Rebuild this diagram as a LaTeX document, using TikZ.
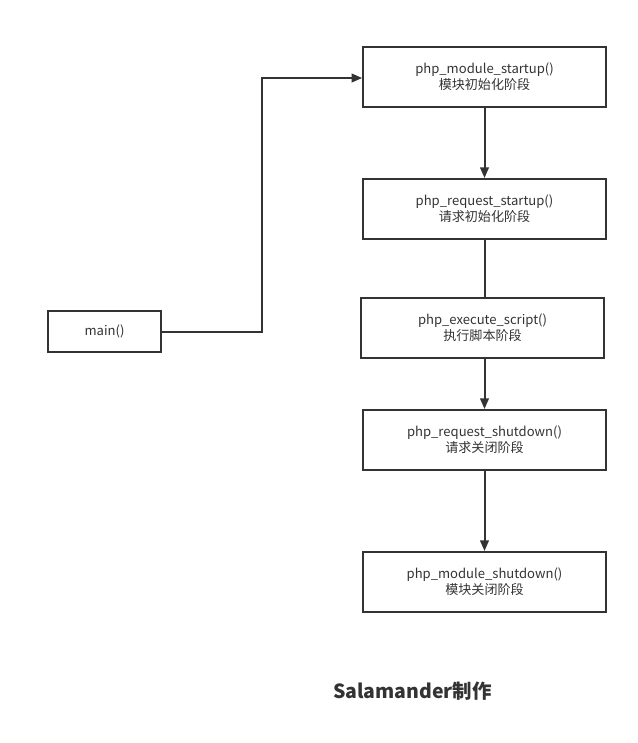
\documentclass[tikz,border=0pt]{standalone}
\usepackage{fontspec}
\setmainfont{Noto Sans CJK SC}
\usetikzlibrary{arrows.meta}
\definecolor{ink}{HTML}{333333}
\begin{document}
\begin{tikzpicture}[x=0.75pt,y=-0.75pt,
  stagebox/.style={draw=ink,line width=1.5pt,minimum width=182pt,minimum height=45pt,inner sep=0pt,align=center,font=\fontsize{9.8}{12}\selectfont,text=ink},
  mainbox/.style={draw=ink,line width=1.5pt,minimum width=84.75pt,minimum height=30.75pt,inner sep=0pt,align=center,font=\fontsize{9.8}{12}\selectfont,text=ink},
  link/.style={draw=ink,line width=1.5pt},
  arr/.style={link,-{Triangle[length=8pt,width=6.5pt]}}]
\useasboundingbox (0,0) rectangle (638,743);
\node[stagebox] (ms) at (484.5,77) {php\_module\_startup()\\模块初始化阶段};
\node[stagebox] (rs) at (484.5,209) {php\_request\_startup()\\请求初始化阶段};
\node[stagebox] (es) at (482.5,328) {php\_execute\_script()\\执行脚本阶段};
\node[stagebox] (rd) at (484.5,440) {php\_request\_shutdown()\\请求关闭阶段};
\node[stagebox] (md) at (484.5,582) {php\_module\_shutdown()\\模块关闭阶段};
\node[mainbox] (mn) at (104.5,331.5) {main()};
\coordinate (c1) at (262,331.5);
\coordinate (c2) at (262,78);
\draw[arr] (mn.east) -- (c1) -- (c2) -- (ms.west |- c2);
\draw[arr] (ms.south) -- (rs.north);
\draw[link] (rs.south) -- (rs.south |- es.north);
\draw[arr] (es.south -| rd.north) -- (rd.north);
\draw[arr] (rd.south) -- (md.north);
\node[font=\bfseries\fontsize{14.6}{17}\selectfont,text=ink] (title) at (412.5,691) {Salamander制作};
\end{tikzpicture}
\end{document}
